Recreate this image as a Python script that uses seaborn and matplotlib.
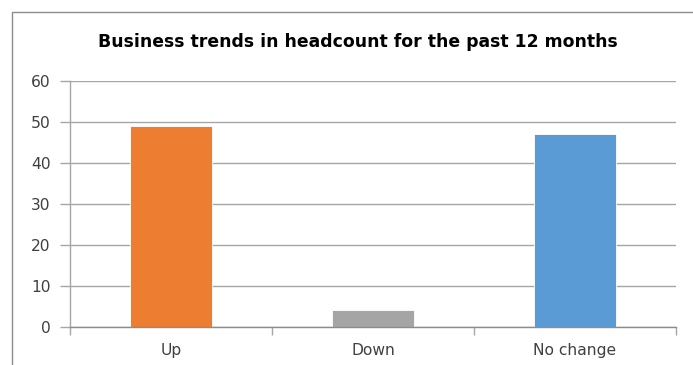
import matplotlib
matplotlib.use("Agg")
import matplotlib.pyplot as plt
from matplotlib.patches import Rectangle
import seaborn as sns
import pandas as pd

categories = ["Up", "Down", "No change"]
values = [49, 4, 47]
colors = ["#ED7D31", "#A5A5A5", "#5B9BD5"]
y_ticks = [0, 10, 20, 30, 40, 50, 60]
title = "Business trends in headcount for the past 12 months"

sns.set_theme(style="white")
plt.rcParams["font.family"] = ["DejaVu Sans"]

df = pd.DataFrame({"trend": categories, "count": values})

W, H = 693, 365
fig = plt.figure(figsize=(W / 100, H / 100), dpi=100)
fig.patch.set_facecolor("white")

# plot area in pixel terms
left, right, bottom, top = 70, 676, 326.7, 81
ax = fig.add_axes([left / W, 1 - bottom / H, (right - left) / W, (bottom - top) / H])

sns.barplot(data=df, x="trend", y="count", hue="trend", palette=colors,
            width=0.405, legend=False, ax=ax, edgecolor="white", linewidth=0.6,
            saturation=1)

ax.set_xlim(-0.5, 2.5)
ax.set_ylim(0, 60)
ax.set_yticks(y_ticks)
ax.set_xlabel("")
ax.set_ylabel("")

grid_c = "#A6A6A6"
ax.yaxis.grid(True, color=grid_c, linewidth=1.0)
ax.set_axisbelow(True)
for s in ["top", "right"]:
    ax.spines[s].set_visible(False)
ax.spines["left"].set_color(grid_c)
ax.spines["bottom"].set_color("#8C8C8C")
ax.spines["left"].set_linewidth(1.0)
ax.spines["bottom"].set_linewidth(1.0)

# y ticks as short outward marks
ax.tick_params(axis="y", which="major", left=True, length=7, width=1.0,
               color=grid_c, pad=7, labelsize=11.2, labelcolor="#404040")
# category boundary marks on x
ax.set_xticks([-0.5, 0.5, 1.5, 2.5], minor=True)
ax.tick_params(axis="x", which="minor", bottom=True, length=6, width=1.0,
               color=grid_c)
ax.tick_params(axis="x", which="major", bottom=False, length=0, pad=12,
               labelsize=11.2, labelcolor="#404040")
ax.spines["left"].set_bounds(0, 60)

fig.text(358 / W, 1 - 42 / H, title, ha="center", va="center",
         fontsize=12.4, fontweight="bold", color="#000000")

# chart area border
fig.patches.append(Rectangle((12 / W, -0.2), 1.5, 1 - 12 / H + 0.2,
                             transform=fig.transFigure, fill=False,
                             edgecolor="#8C8C8C", linewidth=1.0))

fig.savefig("out.png", dpi=100)
